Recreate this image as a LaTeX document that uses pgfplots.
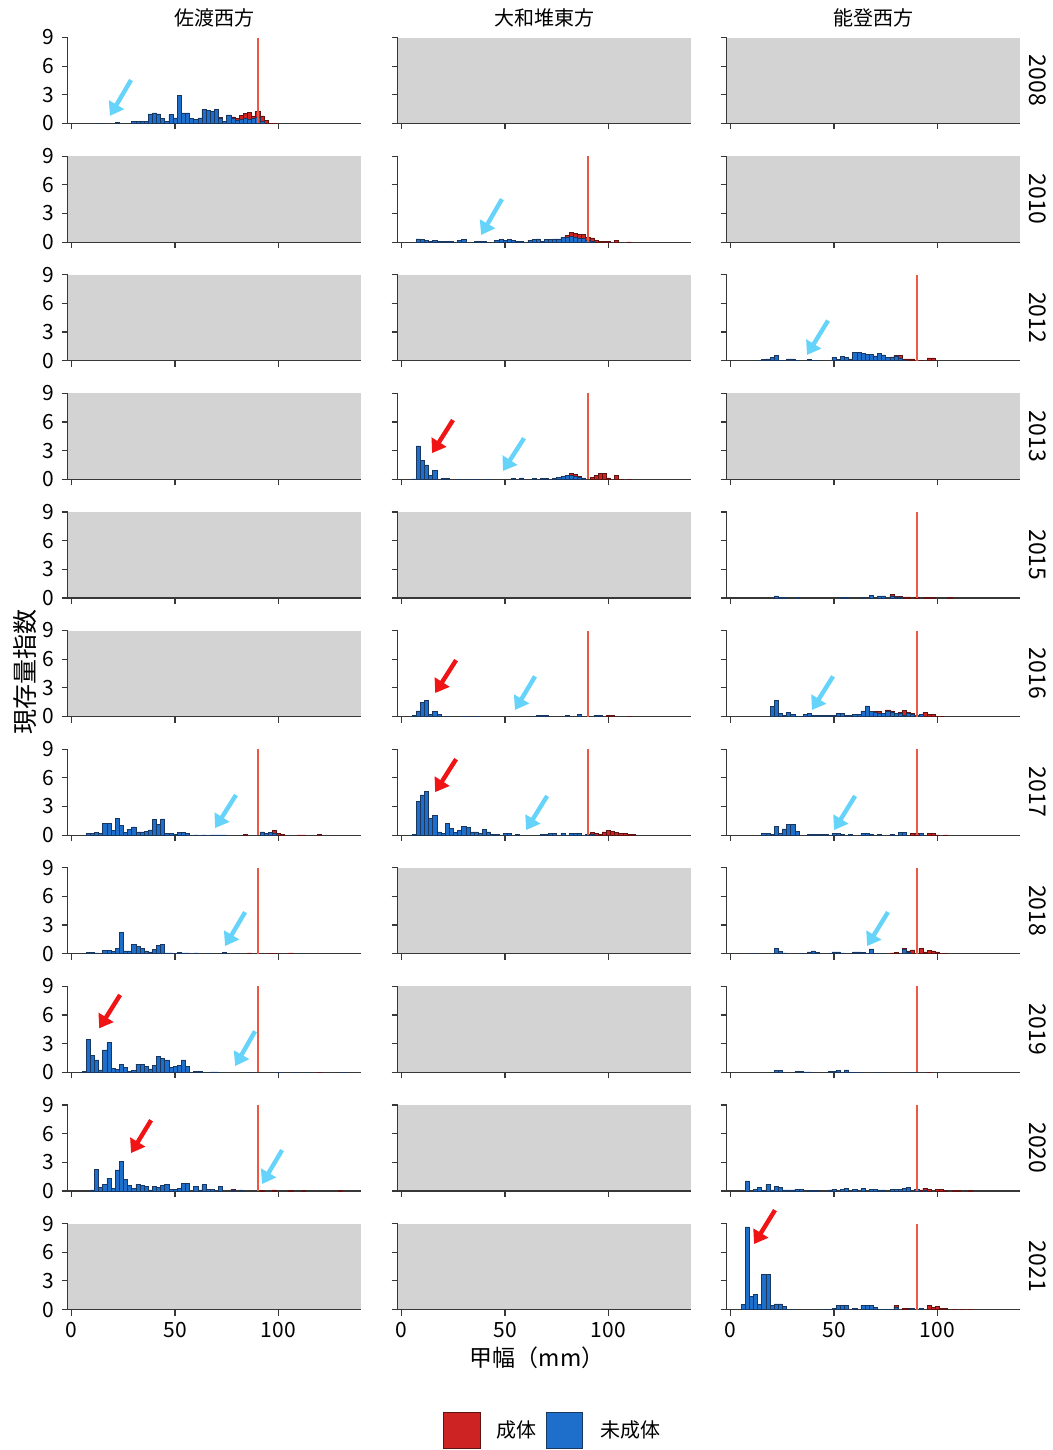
\documentclass[border=0pt]{standalone}
\usepackage{pgfplots}
\pgfplotsset{compat=1.18}
\usepackage{fontspec}
\setmainfont{Noto Sans CJK JP}
\usetikzlibrary{arrows.meta}
\definecolor{juv}{RGB}{30,111,204}
\definecolor{juvedge}{RGB}{25,55,95}
\definecolor{adult}{RGB}{205,35,35}
\definecolor{adultedge}{RGB}{95,20,20}
\definecolor{redline}{RGB}{236,88,68}
\definecolor{lightarrow}{RGB}{102,212,250}
\definecolor{redarrow}{RGB}{240,20,20}
\definecolor{nodata}{RGB}{211,211,211}
\definecolor{axisgray}{RGB}{55,55,55}
\pgfplotsset{
 panel/.style={
  anchor=south west, scale only axis, width=146.7pt, height=43pt,
  xmin=-2, xmax=140, ymin=0, ymax=9,
  axis lines=left, axis line style={-, draw=axisgray, line width=0.6pt},
  xtick={0,50,100}, ytick={0,3,6,9},
  tick align=outside, major tick length=3pt,
  tick style={draw=axisgray, line width=0.6pt},
  xticklabels={}, yticklabels={},
  tick label style={font=\fontsize{10.5}{12}\selectfont, text=black},
  /pgf/number format/assume math mode=true,
  clip=false,
 },
 ylab/.style={yticklabels={0,3,6,9}},
 xlab/.style={xticklabels={0,50,100}},
 nodata/.style={axis background/.style={fill=nodata}},
 adultbar/.style={ybar, bar width=2, bar shift=0pt, fill=adult, draw=adultedge, line width=0.25pt},
 juvbar/.style={ybar, bar width=2, bar shift=0pt, fill=juv, draw=juvedge, line width=0.25pt},
 refline/.style={color=redline, draw=redline, line width=0.9pt, mark=none, sharp plot},
}
\tikzset{
 bluearrow/.style={-{Triangle[length=6.5pt,width=8.5pt]}, line width=2.2pt, draw=lightarrow, fill=lightarrow},
 redarr/.style={-{Triangle[length=6.5pt,width=8.5pt]}, line width=2.2pt, draw=redarrow, fill=redarrow},
}
\newcommand{\blar}[4]{\draw[bluearrow] (axis cs:#1,#2) -- (axis cs:#3,#4);}
\newcommand{\rdar}[4]{\draw[redarr] (axis cs:#1,#2) -- (axis cs:#3,#4);}
% empty panel: x, y, extra options
\newcommand{\epanel}[3]{%
\begin{axis}[panel, nodata, at={(#1pt,#2pt)}, #3]
\addplot[draw=none] coordinates {(0,0)};
\end{axis}}
% data panel: x, y, options, adult (total) coords, juvenile coords, annotations
\newcommand{\dpanel}[6]{%
\begin{axis}[panel, at={(#1pt,#2pt)}, #3]
\addplot[adultbar] coordinates {#4};
\addplot[juvbar] coordinates {#5};
\addplot[refline] coordinates {(90,0) (90,9)};
#6
\end{axis}}
\begin{document}
\begin{tikzpicture}
\useasboundingbox (0pt,0pt) rectangle (526.5pt,-725pt);
% ---- column titles
\node[font=\fontsize{10}{12}\selectfont] at (107pt,-9pt) {佐渡西方};
\node[font=\fontsize{10}{12}\selectfont] at (272.2pt,-9pt) {大和堆東方};
\node[font=\fontsize{10}{12}\selectfont] at (436.7pt,-9pt) {能登西方};
% ---- 2008
\dpanel{33.8}{-61.75}{ylab}
{(72,0.65)(78,0.7)(80,0.55)(82,0.85)(84,1.05)(86,1.15)(88,0.8)(90,1.3)(92,0.8)(94,0.3)(96,0.05)(98,0.05)}
{(14,0.05)(22,0.15)(30,0.25)(32,0.25)(34,0.25)(36,0.25)(38,1.0)(40,1.1)(42,1.0)(44,0.55)(46,0.2)(48,0.95)(50,0.6)(52,2.95)(54,1.1)(56,1.1)(58,0.5)(60,0.45)(62,0.6)(64,1.5)(66,1.35)(68,1.3)(70,1.45)(72,0.6)(74,0.2)(76,0.9)(78,0.55)(80,0.3)(82,0.45)(84,0.55)(86,0.4)(88,0.6)(90,0.65)(92,0.2)}
{\blar{28.7}{4.55}{18.5}{0.8}}
\epanel{198.8}{-61.75}{}
\epanel{363.3}{-61.75}{}
% ---- 2010
\epanel{33.8}{-121.05}{ylab}
\dpanel{198.8}{-121.05}{}
{(80,0.7)(82,1.05)(84,0.9)(86,0.8)(88,0.8)(90,0.5)(92,0.45)(94,0.2)(96,0.1)(98,0.05)(100,0.05)(104,0.2)(110,0.03)}
{(8,0.35)(10,0.25)(12,0.15)(14,0.1)(16,0.2)(18,0.1)(20,0.1)(22,0.1)(24,0.05)(28,0.2)(30,0.3)(36,0.04)(38,0.04)(40,0.04)(46,0.2)(48,0.3)(50,0.15)(52,0.3)(54,0.15)(56,0.1)(58,0.05)(62,0.2)(64,0.3)(66,0.35)(68,0.1)(70,0.25)(72,0.3)(74,0.35)(76,0.35)(78,0.5)(80,0.55)(82,0.6)(84,0.55)(86,0.45)(88,0.4)(90,0.15)(92,0.05)}
{\blar{48.5}{4.5}{38.4}{0.74}}
\epanel{363.3}{-121.05}{}
% ---- 2012
\epanel{33.8}{-180.35}{ylab}
\epanel{198.8}{-180.35}{}
\dpanel{363.3}{-180.35}{}
{(80,0.55)(82,0.55)(84,0.2)(86,0.2)(88,0.2)(92,0.05)(96,0.3)(98,0.3)}
{(14,0.05)(16,0.1)(18,0.2)(20,0.35)(22,0.55)(24,0.05)(28,0.2)(30,0.2)(32,0.04)(38,0.1)(40,0.05)(42,0.05)(50,0.35)(52,0.15)(54,0.45)(56,0.35)(58,0.2)(60,0.85)(62,0.85)(64,0.75)(66,0.7)(68,0.7)(70,0.5)(72,0.75)(74,0.6)(76,0.35)(78,0.4)(80,0.5)(82,0.3)(84,0.05)}
{\blar{47.1}{4.2}{36.9}{0.6}}
% ---- 2013
\epanel{33.8}{-239.65}{ylab}
\dpanel{198.8}{-239.65}{}
{(82,0.65)(84,0.55)(86,0.3)(92,0.2)(94,0.45)(96,0.65)(98,0.65)(100,0.15)(104,0.4)(106,0.03)(110,0.03)}
{(6,0.05)(8,3.5)(10,2.0)(12,1.5)(14,0.4)(16,0.95)(20,0.1)(22,0.1)(28,0.03)(32,0.03)(36,0.03)(42,0.03)(54,0.1)(58,0.15)(64,0.08)(68,0.08)(70,0.08)(74,0.1)(76,0.2)(78,0.3)(80,0.4)(82,0.4)(84,0.3)(86,0.2)(88,0.15)}
{\rdar{24.8}{6.2}{14.7}{2.75}\blar{59.2}{4.3}{49}{0.87}}
\epanel{363.3}{-239.65}{}
% ---- 2015
\epanel{33.8}{-298.95}{ylab}
\epanel{198.8}{-298.95}{}
\dpanel{363.3}{-298.95}{}
{(78,0.35)(80,0.15)(82,0.15)(84,0.1)(86,0.1)(90,0.1)(94,0.05)(96,0.05)(98,0.05)(106,0.05)}
{(22,0.2)(24,0.05)(26,0.05)(32,0.05)(54,0.05)(56,0.05)(64,0.05)(68,0.25)(72,0.2)(74,0.2)(78,0.2)(80,0.1)(82,0.1)}
{}
% ---- 2016
\epanel{33.8}{-358.25}{ylab}
\dpanel{198.8}{-358.25}{}
{(94,0.15)(100,0.1)(102,0.1)(110,0.05)}
{(6,0.1)(8,0.6)(10,1.5)(12,1.65)(14,0.25)(16,0.5)(18,0.25)(22,0.05)(30,0.03)(36,0.03)(66,0.1)(68,0.1)(70,0.12)(80,0.1)(86,0.2)(94,0.1)(96,0.1)}
{\rdar{26.3}{5.9}{16.2}{2.46}\blar{64.5}{4.2}{54.8}{0.68}}
\dpanel{363.3}{-358.25}{}
{(70,0.5)(72,0.55)(76,0.7)(78,0.6)(82,0.4)(84,0.65)(86,0.4)(88,0.35)(94,0.4)(96,0.2)(98,0.2)(100,0.05)(102,0.05)}
{(20,1.05)(22,1.65)(24,0.35)(26,0.15)(28,0.4)(30,0.2)(32,0.05)(34,0.05)(36,0.2)(38,0.3)(40,0.15)(42,0.15)(44,0.15)(46,0.15)(48,0.15)(50,0.15)(52,0.3)(54,0.35)(56,0.1)(58,0.1)(60,0.2)(62,0.2)(64,0.6)(66,1.1)(68,0.5)(70,0.4)(72,0.35)(74,0.35)(76,0.55)(78,0.45)(80,0.3)(82,0.3)(84,0.15)(86,0.35)(88,0.2)(90,0.15)(92,0.2)}
{\blar{49.5}{4.2}{39.3}{0.68}}
% ---- 2017
\dpanel{33.8}{-417.55}{ylab}
{(84,0.05)(96,0.3)(98,0.5)(100,0.2)(102,0.05)(110,0.03)(112,0.03)(120,0.05)}
{(8,0.15)(10,0.2)(12,0.25)(14,0.15)(16,1.2)(18,1.2)(20,0.5)(22,1.75)(24,1.0)(26,0.25)(28,0.6)(30,0.85)(32,0.35)(34,0.35)(36,0.4)(38,0.55)(40,1.65)(42,1.1)(44,1.7)(46,0.15)(48,0.15)(50,0.1)(52,0.25)(54,0.25)(56,0.15)(60,0.03)(64,0.03)(68,0.03)(70,0.03)(72,0.03)(74,0.03)(92,0.35)(94,0.15)(96,0.25)(98,0.2)}
{\blar{79.5}{4.2}{69.4}{0.74}}
\dpanel{198.8}{-417.55}{}
{(92,0.25)(94,0.15)(96,0.1)(98,0.35)(100,0.5)(102,0.4)(104,0.25)(106,0.15)(108,0.15)(110,0.05)(112,0.05)}
{(6,0.05)(8,3.5)(10,4.2)(12,4.55)(14,1.75)(16,2.1)(18,0.35)(20,0.2)(22,1.2)(24,0.7)(26,0.25)(28,0.5)(30,0.95)(32,0.8)(34,0.35)(36,0.35)(38,0.15)(40,0.6)(42,0.35)(44,0.1)(46,0.1)(50,0.15)(52,0.15)(56,0.1)(68,0.1)(70,0.1)(72,0.2)(74,0.2)(78,0.2)(82,0.2)(84,0.2)(86,0.2)(90,0.1)(92,0.1)}
{\rdar{26.3}{7.95}{16.2}{4.5}\blar{70.4}{4.1}{60.2}{0.53}}
\dpanel{363.3}{-417.55}{}
{(84,0.3)(88,0.15)(90,0.2)(96,0.2)(98,0.2)(100,0.03)(104,0.03)}
{(16,0.2)(18,0.2)(20,0.1)(22,0.95)(24,0.2)(26,0.65)(28,1.15)(30,1.15)(32,0.4)(38,0.1)(40,0.1)(42,0.05)(44,0.05)(46,0.05)(50,0.15)(52,0.15)(54,0.05)(58,0.1)(64,0.15)(66,0.15)(68,0.05)(72,0.05)(78,0.1)(82,0.3)(84,0.25)(92,0.15)}
{\blar{60.2}{4.1}{50}{0.53}}
% ---- 2018
\dpanel{33.8}{-476.85}{ylab}
{(86,0.1)(96,0.05)(98,0.05)(106,0.1)}
{(8,0.15)(10,0.15)(12,0.1)(16,0.35)(18,0.35)(20,0.25)(22,0.55)(24,2.25)(26,0.3)(28,0.3)(30,1.0)(32,0.75)(34,0.55)(36,0.3)(38,0.2)(40,0.45)(42,0.85)(44,0.95)(46,0.1)(48,0.1)(50,0.05)(52,0.15)(54,0.1)(56,0.1)(60,0.1)(66,0.03)(74,0.15)(80,0.05)}
{\blar{83.9}{4.35}{74.2}{0.8}}
\epanel{198.8}{-476.85}{}
\dpanel{363.3}{-476.85}{}
{(78,0.1)(80,0.15)(84,0.55)(86,0.3)(88,0.4)(92,0.55)(94,0.2)(96,0.35)(98,0.3)(100,0.2)(102,0.05)(104,0.05)}
{(10,0.05)(12,0.05)(22,0.55)(24,0.25)(26,0.1)(34,0.05)(38,0.2)(40,0.3)(42,0.15)(48,0.05)(50,0.2)(52,0.2)(54,0.1)(60,0.2)(62,0.2)(64,0.15)(66,0.05)(68,0.5)(70,0.05)(72,0.05)(84,0.45)(86,0.15)}
{\blar{76.1}{4.35}{66}{0.8}}
% ---- 2019
\dpanel{33.8}{-536.15}{ylab}
{(120,0.05)}
{(6,0.1)(8,3.45)(10,1.75)(12,1.3)(14,0.25)(16,2.35)(18,3.1)(20,0.45)(22,0.3)(24,0.8)(26,0.5)(28,0.1)(30,0.2)(32,0.85)(34,0.85)(36,0.6)(38,0.35)(40,0.7)(42,1.65)(44,1.45)(46,1.3)(48,0.55)(50,0.6)(52,0.7)(54,1.3)(56,0.6)(60,0.1)(62,0.1)(68,0.05)(70,0.05)(86,0.03)(100,0.03)(108,0.03)(114,0.03)(132,0.03)}
{\rdar{23.4}{8.1}{13.3}{4.6}\blar{88.7}{4.3}{79.1}{0.66}}
\epanel{198.8}{-536.15}{}
\dpanel{363.3}{-536.15}{}
{(96,0.03)}
{(22,0.2)(24,0.2)(32,0.1)(34,0.1)(36,0.05)(38,0.05)(48,0.1)(50,0.1)(52,0.2)(56,0.25)(58,0.03)(60,0.03)(62,0.03)(72,0.03)(88,0.03)}
{}
% ---- 2020
\dpanel{33.8}{-595.45}{ylab}
{(78,0.2)(92,0.05)(98,0.1)(106,0.03)(112,0.03)(130,0.03)}
{(10,0.1)(12,2.25)(14,0.35)(16,0.7)(18,1.35)(20,0.3)(22,2.2)(24,3.1)(26,1.2)(28,0.6)(30,0.25)(32,0.65)(34,0.6)(36,0.45)(38,0.1)(40,0.5)(42,0.35)(44,0.55)(46,0.7)(48,0.2)(50,0.15)(52,0.3)(54,0.8)(56,0.75)(60,0.45)(62,0.1)(64,0.65)(66,0.2)(68,0.2)(72,0.45)(78,0.1)(82,0.1)}
{\rdar{38.4}{7.4}{28.7}{3.96}\blar{101.8}{4.27}{92.1}{0.72}}
\epanel{198.8}{-595.45}{}
\dpanel{363.3}{-595.45}{}
{(92,0.1)(94,0.3)(96,0.15)(100,0.15)(102,0.15)(104,0.05)(108,0.05)(110,0.05)(116,0.05)}
{(8,1.05)(12,0.2)(14,0.4)(16,0.05)(18,0.65)(20,0.1)(22,0.5)(24,0.4)(26,0.1)(28,0.1)(30,0.1)(32,0.2)(34,0.15)(38,0.05)(40,0.05)(42,0.05)(48,0.1)(50,0.15)(54,0.15)(56,0.25)(60,0.2)(64,0.25)(68,0.15)(70,0.15)(72,0.1)(74,0.1)(78,0.15)(80,0.2)(82,0.2)(84,0.25)(86,0.35)(90,0.2)(94,0.1)}
{}
% ---- 2021
\epanel{33.8}{-654.75}{ylab,xlab}
\epanel{198.8}{-654.75}{xlab}
\dpanel{363.3}{-654.75}{xlab}
{(80,0.4)(84,0.15)(86,0.15)(88,0.15)(96,0.45)(98,0.2)(100,0.35)(102,0.1)(104,0.1)(108,0.03)(112,0.03)(116,0.03)}
{(6,0.55)(8,8.65)(10,1.35)(12,1.55)(14,0.5)(16,3.65)(18,3.7)(20,0.4)(22,0.6)(24,0.6)(26,0.3)(30,0.05)(46,0.05)(48,0.05)(50,0.15)(52,0.4)(54,0.45)(56,0.45)(60,0.1)(64,0.45)(66,0.45)(68,0.45)(70,0.2)(72,0.05)(74,0.05)(76,0.05)(80,0.2)(88,0.1)(92,0.15)}
{\rdar{21.4}{10.4}{11.3}{6.85}}
% ---- year labels
\foreach \yr/\yy in {2008/-40.25,2010/-99.55,2012/-158.85,2013/-218.15,2015/-277.45,2016/-336.75,2017/-396.05,2018/-455.35,2019/-514.65,2020/-573.95,2021/-633.25}
  \node[rotate=-90, font=\fontsize{11.5}{13}\selectfont] at (519pt,\yy pt) {\yr};
% ---- axis labels
\node[rotate=90, font=\fontsize{12.5}{14}\selectfont] at (12.5pt,-336pt) {現存量指数};
\node[font=\fontsize{11.5}{13}\selectfont] at (268.5pt,-679pt) {甲幅（mm）};
% ---- legend
\filldraw[fill=adult, draw=adultedge, line width=0.3pt] (221.5pt,-706pt) rectangle (240pt,-724pt);
\node[anchor=west, font=\fontsize{10}{12}\selectfont] at (244.5pt,-715pt) {成体};
\filldraw[fill=juv, draw=juvedge, line width=0.3pt] (273pt,-706pt) rectangle (291pt,-724pt);
\node[anchor=west, font=\fontsize{10}{12}\selectfont] at (296.5pt,-715pt) {未成体};
\end{tikzpicture}
\end{document}
